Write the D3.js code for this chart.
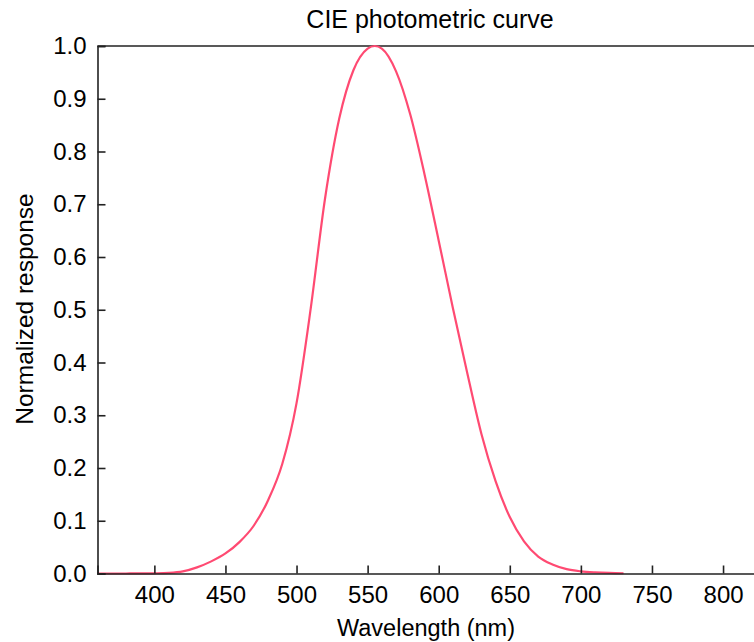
<!DOCTYPE html>
<html>
<head>
<meta charset="utf-8">
<script src="https://cdn.jsdelivr.net/npm/d3@7"></script>
<style>
  html, body { margin: 0; padding: 0; background: #fff; }
  svg { display: block; }
  text { font-family: "Liberation Sans", Arial, Helvetica, sans-serif; fill: #000; }
</style>
</head>
<body>
<svg id="chart" width="754" height="642"></svg>
<script>
// CIE photopic luminosity function V(lambda)
const wavelengths = [360, 370, 380, 390, 400, 410, 420, 430, 440, 450, 460, 470, 480, 490, 500,
  510, 520, 530, 540, 550, 555, 560, 570, 580, 590, 600, 610, 620, 630, 640, 650, 660, 670,
  680, 690, 700, 710, 720, 730];
const response = [0.0000039, 0.000012, 0.000039, 0.00012, 0.000396, 0.00121, 0.004, 0.0116,
  0.023, 0.038, 0.06, 0.091, 0.139, 0.208, 0.323, 0.503, 0.71, 0.862, 0.954, 0.995, 1.0, 0.995,
  0.952, 0.87, 0.757, 0.631, 0.503, 0.381, 0.265, 0.175, 0.107, 0.061, 0.032, 0.017, 0.0082,
  0.0041, 0.0021, 0.001, 0.00052];
const xTicks = [400, 450, 500, 550, 600, 650, 700, 750, 800];
const yTicks = [0, 0.1, 0.2, 0.3, 0.4, 0.5, 0.6, 0.7, 0.8, 0.9, 1.0];

(function () {
const svg = d3.select("#chart");
const mLeft = 97.5, mTop = 46, mBottom = 573.5;
const pxPerNm = 1.4217;
const x = d3.scaleLinear().domain([360, 830]).range([mLeft, mLeft + 470 * pxPerNm]);
const y = d3.scaleLinear().domain([0, 1]).range([mBottom, mTop]);
const TICK_FS = 24;

const g = svg.append("g");
g.append("line").attr("x1", mLeft).attr("x2", x(830)).attr("y1", mTop).attr("y2", mTop)
  .attr("stroke", "#222").attr("stroke-width", 1.6);

const data = wavelengths.map((w, i) => ({ w, v: response[i] }));
g.append("path").datum(data)
  .attr("fill", "none")
  .attr("stroke", "#ff4a72")
  .attr("stroke-width", 2.2)
  .attr("d", d3.line().x(d => x(d.w)).y(d => y(d.v)).curve(d3.curveMonotoneX));

const xAxis = svg.append("g").attr("transform", `translate(0,${mBottom})`)
  .call(d3.axisBottom(x).tickValues(xTicks).tickSize(-8).tickPadding(12).tickFormat(d3.format("d")));
xAxis.select(".domain").attr("stroke", "#222").attr("stroke-width", 1.6);
xAxis.selectAll(".tick line").attr("stroke", "#222").attr("stroke-width", 1.6);
xAxis.selectAll(".tick text").attr("font-size", TICK_FS).attr("font-family", "Liberation Sans, Arial, sans-serif").attr("fill", "#000");

const yAxis = svg.append("g").attr("transform", `translate(${mLeft},0)`)
  .call(d3.axisLeft(y).tickValues(yTicks).tickSize(-8).tickPadding(11).tickFormat(d3.format(".1f")));
yAxis.select(".domain").attr("stroke", "#222").attr("stroke-width", 1.6);
yAxis.selectAll(".tick line").attr("stroke", "#222").attr("stroke-width", 1.6);
yAxis.selectAll(".tick text").attr("font-size", TICK_FS).attr("font-family", "Liberation Sans, Arial, sans-serif").attr("fill", "#000");

svg.append("text").attr("x", 430).attr("y", 28).attr("text-anchor", "middle")
  .attr("font-size", 25).text("CIE photometric curve");

svg.append("text").attr("x", 426).attr("y", 636).attr("text-anchor", "middle")
  .attr("font-size", 23.5).text("Wavelength (nm)");

svg.append("text").attr("transform", `translate(33,309) rotate(-90)`).attr("text-anchor", "middle")
  .attr("font-size", 24.5).text("Normalized response");
})();
</script>
</body>
</html>
